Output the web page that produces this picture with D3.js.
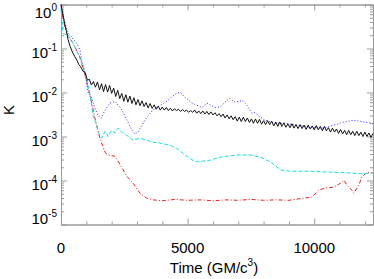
<!DOCTYPE html>
<html>
<head>
<meta charset="utf-8">
<script src="https://cdn.jsdelivr.net/npm/d3@7/dist/d3.min.js"></script>
<style>
	body { margin: 0; background: #fff; }
	svg { display: block; }
	text { font-family: "Liberation Sans", Arial, Helvetica, sans-serif; fill: #000; }
</style>
</head>
<body>
<div id="chart"></div>
<script>
// ---- data (K stored as log10 values) ----
var xMajorTicks = [0, 5000, 10000];
var xMinorTicks = [1000, 2000, 3000, 4000, 6000, 7000, 8000, 9000, 11000, 12000];
var yDecades = [0, -1, -2, -3, -4, -5];

// black solid: early part, then sampled every 80
var blackEarlyT = [0, 100, 160, 220, 280, 360, 450, 540, 630, 700, 780, 870];
var blackEarlyLog = [0.0, -0.30, -0.48, -0.62, -0.80, -0.95, -1.08, -1.18, -1.27, -1.36, -1.42, -1.52];
var blackStart = 960, blackStep = 80;
var blackLog = [
	-1.55, -1.72, -1.70, -1.83, -1.75, -1.88, -1.76, -1.94, -1.80, -1.98,
	-1.82, -1.99, -1.84, -2.02, -1.90, -2.09, -1.95, -2.14, -2.02, -2.20,
	-2.05, -2.22, -2.08, -2.25, -2.12, -2.28, -2.16, -2.30, -2.19, -2.32,
	-2.23, -2.35, -2.25, -2.36, -2.28, -2.38, -2.31, -2.40, -2.33, -2.40,
	-2.34, -2.41, -2.36, -2.42, -2.37, -2.41, -2.38, -2.43, -2.39, -2.43,
	-2.40, -2.45, -2.41, -2.45, -2.40, -2.47, -2.42, -2.48, -2.42, -2.49,
	-2.43, -2.50, -2.44, -2.51, -2.46, -2.53, -2.48, -2.55, -2.49, -2.58,
	-2.51, -2.60, -2.53, -2.62, -2.55, -2.65, -2.56, -2.66, -2.56, -2.66,
	-2.58, -2.68, -2.60, -2.70, -2.60, -2.70, -2.61, -2.72, -2.64, -2.73,
	-2.64, -2.73, -2.65, -2.76, -2.67, -2.77, -2.67, -2.77, -2.69, -2.79,
	-2.71, -2.80, -2.71, -2.81, -2.73, -2.82, -2.73, -2.82, -2.74, -2.84,
	-2.74, -2.83, -2.76, -2.85, -2.75, -2.85, -2.77, -2.87, -2.77, -2.87,
	-2.80, -2.90, -2.81, -2.90, -2.83, -2.93, -2.84, -2.94, -2.86, -2.96,
	-2.86, -2.96, -2.88, -2.98, -2.88, -2.98, -2.90, -3.00, -2.90, -3.00,
	-2.92, -3.02, -2.93
];

// blue dotted
var blueT = [0, 100, 276, 474, 620, 750, 817, 908, 975, 1014, 1066, 1224, 1342, 1460, 1580, 1737,
	1934, 2131, 2289, 2408, 2605, 2802, 2921, 3039, 3197, 3394, 3631, 3908, 4184, 4342, 4579,
	4697, 4894, 5052, 5171, 5368, 5565, 5763, 6078, 6276, 6473, 6670, 6868, 7184, 7341, 7539,
	7657, 7776, 8052, 8447, 8841, 9236, 9856, 10381, 10775, 11170, 11565, 11959, 12303];
var blueLog = [0.0, -0.30, -0.64, -0.78, -0.88, -1.04, -1.27, -1.45, -1.61, -1.79, -1.99, -2.13, -2.36, -2.52, -2.59, -2.40,
	-2.24, -2.20, -2.31, -2.40, -2.63, -2.86, -2.95, -2.90, -2.74, -2.56, -2.40, -2.29, -2.20, -2.11, -2.02,
	-1.99, -2.11, -2.18, -2.24, -2.29, -2.34, -2.24, -2.34, -2.33, -2.22, -2.13, -2.22, -2.18, -2.29, -2.47,
	-2.45, -2.52, -2.63, -2.70, -2.70, -2.74, -2.79, -2.81, -2.74, -2.67, -2.63, -2.67, -2.70];

// cyan dashed
var cyanT = [0, 79, 276, 474, 620, 750, 868, 1014, 1145, 1212, 1263, 1409, 1460, 1606, 1737, 1855,
	2001, 2131, 2250, 2396, 2593, 2842, 3118, 3383, 3631, 3908, 4303, 4567, 4815, 5013, 5210,
	5407, 5605, 5881, 6276, 6935, 7460, 7882, 8277, 8672, 9066, 9856, 10645, 11434, 11959, 12303];
var cyanLog = [-0.10, -0.66, -0.70, -0.88, -1.04, -1.22, -1.43, -1.70, -2.06, -2.29, -2.52, -2.74, -2.90, -3.04, -2.88, -3.00,
	-2.86, -2.92, -2.81, -2.90, -2.97, -3.08, -3.04, -3.08, -3.13, -3.15, -3.20, -3.27, -3.38, -3.47, -3.54,
	-3.58, -3.56, -3.54, -3.47, -3.42, -3.42, -3.47, -3.58, -3.76, -3.79, -3.79, -3.81, -3.83, -3.85, -3.83];

// red dash-dot
var redT = [0, 91, 225, 474, 750, 947, 1145, 1342, 1539, 1737, 1855, 2131, 2210, 2396, 2593, 2842,
	3118, 3383, 3631, 4000, 4500, 5000, 5500, 6000, 6500, 7000, 7500, 8000, 8500, 9000, 9591,
	9907, 10183, 10448, 10775, 11040, 11170, 11288, 11486, 11565, 11762, 11880, 12078, 12303];
var redLog = [-0.02, -0.36, -0.66, -0.88, -1.20, -1.61, -2.06, -2.59, -3.04, -3.36, -3.42, -3.45, -3.52, -3.70, -3.90, -4.06,
	-4.29, -4.40, -4.44, -4.46, -4.43, -4.45, -4.44, -4.46, -4.44, -4.45, -4.43, -4.45, -4.44, -4.45, -4.40,
	-4.38, -4.22, -4.17, -4.15, -4.06, -3.99, -4.10, -4.22, -4.29, -4.10, -3.92, -3.81, -3.83];

// ---- chart ----
var width = 374, height = 279;
var plotLeft = 61, plotRight = 373, plotTop = 4.5, plotBottom = 224.5;
var axisColor = "#9a9a9a";

var svg = d3.select("#chart").append("svg")
	.attr("width", width)
	.attr("height", height);

var x = d3.scaleLinear().domain([0, 12320]).range([plotLeft, plotRight]);
var y = d3.scaleLog().domain([1e-5, 1]).range([plotBottom, plotTop]);

function pairs(ts, logs) {
	return ts.map(function (t, i) { return [t, logs[i]]; });
}

var blackData = pairs(blackEarlyT, blackEarlyLog).concat(
	blackLog.map(function (v, i) { return [blackStart + i * blackStep, v]; })
);

//minor log ticks
var yMajor = yDecades.map(function (e) { return Math.pow(10, e); });
var yMinor = [];
yDecades.forEach(function (e) {
	if (e === 0) { return; }
	for (var m = 2; m <= 9; m++) { yMinor.push(m * Math.pow(10, e)); }
});

function styleAxis(g) {
	g.select(".domain").attr("stroke", axisColor);
	g.selectAll(".tick line").attr("stroke", axisColor);
	g.selectAll(".tick text").remove();
}

function addAxis(axis, tx, ty) {
	svg.append("g").attr("transform", "translate(" + tx + "," + ty + ")")
		.call(axis.tickSizeOuter(0).tickFormat(""))
		.call(styleAxis);
}

// left / right axes
addAxis(d3.axisLeft(y).tickValues(yMajor).tickSizeInner(-6), plotLeft, 0);
addAxis(d3.axisLeft(y).tickValues(yMinor).tickSizeInner(-3), plotLeft, 0);
addAxis(d3.axisRight(y).tickValues(yMajor).tickSizeInner(-6), plotRight, 0);
addAxis(d3.axisRight(y).tickValues(yMinor).tickSizeInner(-3), plotRight, 0);

// bottom / top axes
addAxis(d3.axisBottom(x).tickValues(xMajorTicks).tickSizeInner(-6), 0, plotBottom);
addAxis(d3.axisBottom(x).tickValues(xMinorTicks).tickSizeInner(-3), 0, plotBottom);
addAxis(d3.axisTop(x).tickValues(xMajorTicks).tickSizeInner(-6), 0, plotTop);
addAxis(d3.axisTop(x).tickValues(xMinorTicks).tickSizeInner(-3), 0, plotTop);

// y tick labels 10^n (end labels kept inside the frame)
var yLab = svg.selectAll("text.ylab")
	.data(yDecades)
	.enter()
	.append("text")
	.attr("class", "ylab")
	.attr("x", 57)
	.attr("y", function (e) { return Math.min(Math.max(y(Math.pow(10, e)) + 9, 18), 223.5); })
	.attr("text-anchor", "end")
	.attr("font-size", "15px");
yLab.append("tspan").text("10");
yLab.append("tspan").attr("font-size", "10px").attr("dy", "-7").text(function (e) { return e === 0 ? "0" : "-" + (-e); });

// x tick labels
svg.selectAll("text.xlab")
	.data(xMajorTicks)
	.enter()
	.append("text")
	.attr("class", "xlab")
	.attr("x", function (d) { return x(d); })
	.attr("y", 252.5)
	.attr("text-anchor", "middle")
	.attr("font-size", "15px")
	.text(function (d) { return d; });

// axis titles
var xt = svg.append("text")
	.attr("x", (plotLeft + plotRight) / 2 - 3)
	.attr("y", 273)
	.attr("text-anchor", "middle")
	.attr("font-size", "15px");
xt.append("tspan").text("Time (GM/c");
xt.append("tspan").attr("font-size", "10px").attr("dy", "-7").text("3");
xt.append("tspan").attr("dy", "7").text(")");

svg.append("text")
	.attr("transform", "translate(14,110) rotate(-90)")
	.attr("text-anchor", "middle")
	.attr("font-size", "15px")
	.text("K");

// curves
var line = d3.line()
	.x(function (d) { return x(d[0]); })
	.y(function (d) { return y(Math.pow(10, d[1])); });

var series = [
	{ data: pairs(redT, redLog), color: "#e52222", dash: "4,2,1,2" },
	{ data: pairs(cyanT, cyanLog), color: "#17dede", dash: "4,2" },
	{ data: pairs(blueT, blueLog), color: "#2a2aff", dash: "1,2" },
	{ data: blackData, color: "#111111", dash: null }
];

svg.selectAll("path.curve")
	.data(series)
	.enter()
	.append("path")
	.attr("class", "curve")
	.attr("d", function (s) { return line(s.data); })
	.attr("fill", "none")
	.attr("stroke", function (s) { return s.color; })
	.attr("stroke-width", 1)
	.attr("stroke-dasharray", function (s) { return s.dash; });
</script>
</body>
</html>
